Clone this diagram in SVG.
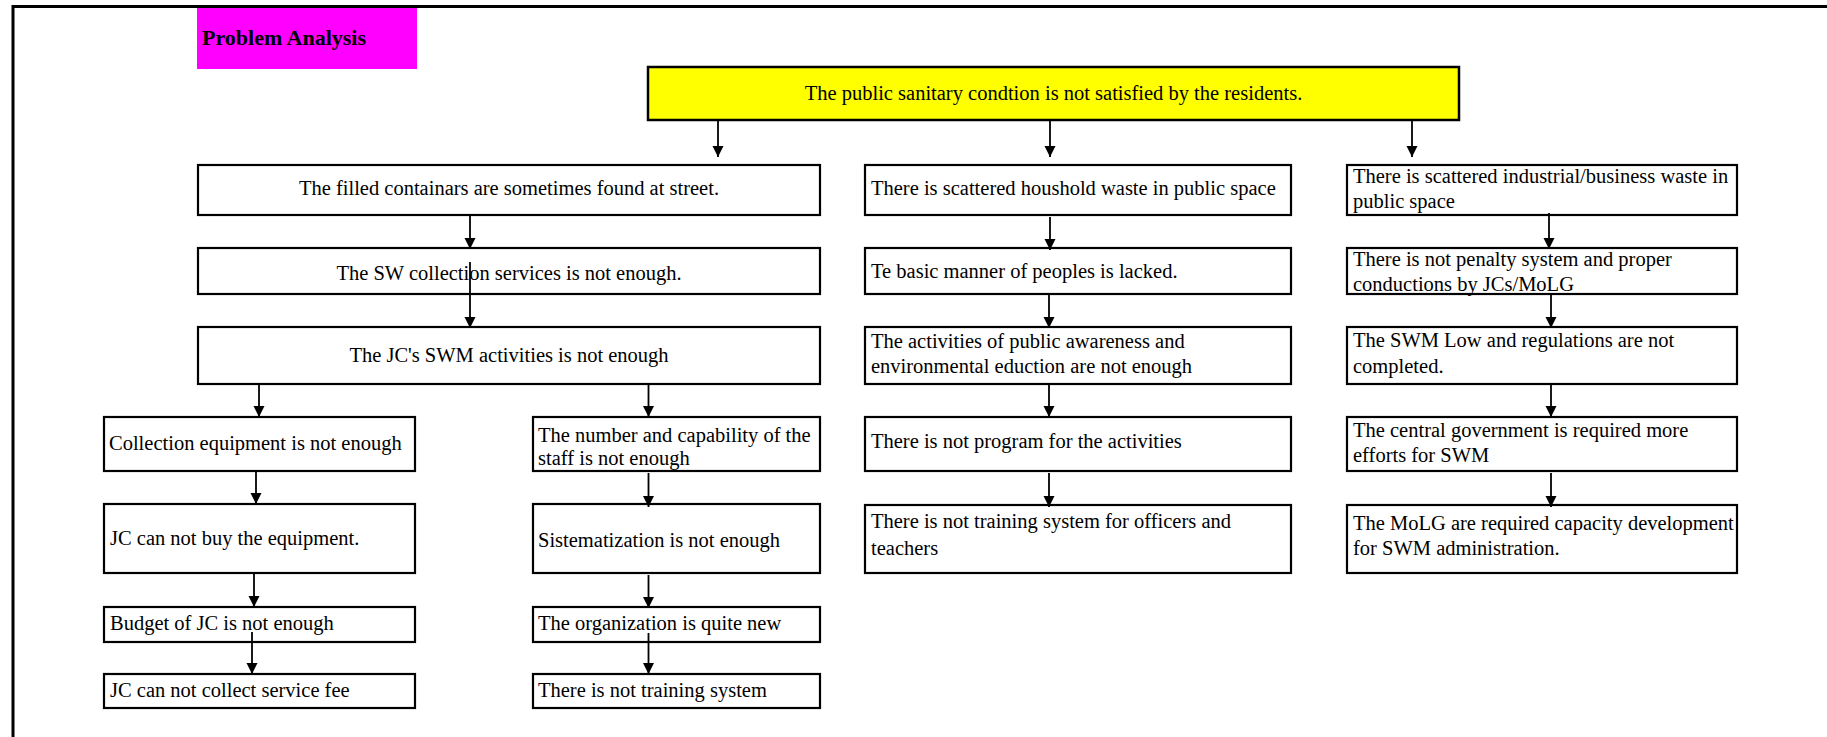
<svg xmlns="http://www.w3.org/2000/svg" width="1827" height="737" viewBox="0 0 1827 737">
<defs>
<marker id="ah" markerUnits="userSpaceOnUse" markerWidth="12" markerHeight="12" refX="11" refY="5.5" orient="auto">
<path d="M0,0 L11,5.5 L0,11 z" fill="#000"/>
</marker>
<style>
.box{fill:#fff;stroke:#000;stroke-width:2.2}
.t{font-family:"Liberation Serif","Times New Roman",serif;font-size:20.5px;fill:#000}
.c{text-anchor:middle}
.cn{stroke:#000;stroke-width:1.8;fill:none;marker-end:url(#ah)}
</style>
</defs>
<rect width="1827" height="737" fill="#fff"/>
<path d="M13,737 V6.5 H1827" fill="none" stroke="#000" stroke-width="3"/>
<g id="title">
<rect x="197" y="8" width="220" height="61" fill="#FF00FF"/>
<text x="202" y="45" style="font-family:'Liberation Serif','Times New Roman',serif;font-size:22px;font-weight:bold">Problem Analysis</text>
</g>
<g id="n0"><rect x="648" y="67" width="811" height="53" fill="#FFFF00" stroke="#000" stroke-width="2.5"/><text class="t c" x="1053.5" y="100">The public sanitary condtion is not satisfied by the residents.</text></g>
<g id="a1"><rect class="box" x="198" y="165" width="622" height="50"/><text class="t c" x="509" y="195">The filled containars are sometimes found at street.</text></g>
<g id="b1"><rect class="box" x="865" y="165" width="426" height="50"/><text class="t" x="871" y="195">There is scattered houshold waste in public space</text></g>
<g id="c1"><rect class="box" x="1347" y="165" width="390" height="50"/><text class="t" x="1353" y="183">There is scattered industrial/business waste in</text><text class="t" x="1353" y="208">public space</text></g>
<g id="a2"><rect class="box" x="198" y="248" width="622" height="46"/><text class="t c" x="509" y="280">The SW collection services is not enough.</text></g>
<g id="b2"><rect class="box" x="865" y="248" width="426" height="46"/><text class="t" x="871" y="278">Te basic manner of peoples is lacked.</text></g>
<g id="c2"><rect class="box" x="1347" y="248" width="390" height="46"/><text class="t" x="1353" y="266">There is not penalty system and proper</text><text class="t" x="1353" y="291">conductions by JCs/MoLG</text></g>
<g id="a3"><rect class="box" x="198" y="327" width="622" height="57"/><text class="t c" x="509" y="362">The JC's SWM activities is not enough</text></g>
<g id="b3"><rect class="box" x="865" y="327" width="426" height="57"/><text class="t" x="871" y="348">The activities of public awareness and</text><text class="t" x="871" y="373">environmental eduction are not enough</text></g>
<g id="c3"><rect class="box" x="1347" y="327" width="390" height="57"/><text class="t" x="1353" y="347">The SWM Low and regulations are not</text><text class="t" x="1353" y="373">completed.</text></g>
<g id="a4"><rect class="box" x="104" y="417" width="311" height="54"/><text class="t" x="109" y="450">Collection equipment is not enough</text></g>
<g id="a5"><rect class="box" x="533" y="417" width="287" height="54"/><text class="t" x="538" y="442">The number and capability of the</text><text class="t" x="538" y="465">staff is not enough</text></g>
<g id="b4"><rect class="box" x="865" y="417" width="426" height="54"/><text class="t" x="871" y="448">There is not program for the activities</text></g>
<g id="c4"><rect class="box" x="1347" y="417" width="390" height="54"/><text class="t" x="1353" y="437">The central government is required more</text><text class="t" x="1353" y="462">efforts for SWM</text></g>
<g id="a6"><rect class="box" x="104" y="504" width="311" height="69"/><text class="t" x="110" y="545">JC can not buy the equipment.</text></g>
<g id="a7"><rect class="box" x="533" y="504" width="287" height="69"/><text class="t" x="538" y="547">Sistematization is not enough</text></g>
<g id="b5"><rect class="box" x="865" y="505" width="426" height="68"/><text class="t" x="871" y="528">There is not training system for officers and</text><text class="t" x="871" y="555">teachers</text></g>
<g id="c5"><rect class="box" x="1347" y="505" width="390" height="68"/><text class="t" x="1353" y="530">The MoLG are required capacity development</text><text class="t" x="1353" y="555">for SWM administration.</text></g>
<g id="a8"><rect class="box" x="104" y="607" width="311" height="35"/><text class="t" x="110" y="630">Budget of JC is not enough</text></g>
<g id="a9"><rect class="box" x="533" y="607" width="287" height="35"/><text class="t" x="538" y="630">The organization is quite new</text></g>
<g id="a10"><rect class="box" x="104" y="674" width="311" height="34"/><text class="t" x="110" y="697">JC can not collect service fee</text></g>
<g id="a11"><rect class="box" x="533" y="674" width="287" height="34"/><text class="t" x="538" y="697">There is not training system</text></g>
<g id="connectors">
<line class="cn" x1="718" y1="121" x2="718" y2="157"/>
<line class="cn" x1="1050" y1="121" x2="1050" y2="157"/>
<line class="cn" x1="1412" y1="121" x2="1412" y2="157"/>
<line class="cn" x1="470" y1="215" x2="470" y2="249"/>
<line class="cn" x1="1050" y1="217" x2="1050" y2="250"/>
<line class="cn" x1="1549" y1="213" x2="1549" y2="249"/>
<line class="cn" x1="470" y1="262" x2="470" y2="328"/>
<line class="cn" x1="1049" y1="294" x2="1049" y2="328"/>
<line class="cn" x1="1551" y1="295" x2="1551" y2="328"/>
<line class="cn" x1="259" y1="384" x2="259" y2="417"/>
<line class="cn" x1="648.5" y1="384" x2="648.5" y2="417"/>
<line class="cn" x1="1049" y1="384" x2="1049" y2="417"/>
<line class="cn" x1="1551" y1="384" x2="1551" y2="417"/>
<line class="cn" x1="256" y1="471" x2="256" y2="504"/>
<line class="cn" x1="648.5" y1="473" x2="648.5" y2="507"/>
<line class="cn" x1="1049" y1="473" x2="1049" y2="507"/>
<line class="cn" x1="1551" y1="473" x2="1551" y2="507"/>
<line class="cn" x1="254" y1="573" x2="254" y2="607"/>
<line class="cn" x1="648.5" y1="575" x2="648.5" y2="608"/>
<line class="cn" x1="252" y1="632" x2="252" y2="674"/>
<line class="cn" x1="648.5" y1="633" x2="648.5" y2="674"/>
</g>
</svg>
